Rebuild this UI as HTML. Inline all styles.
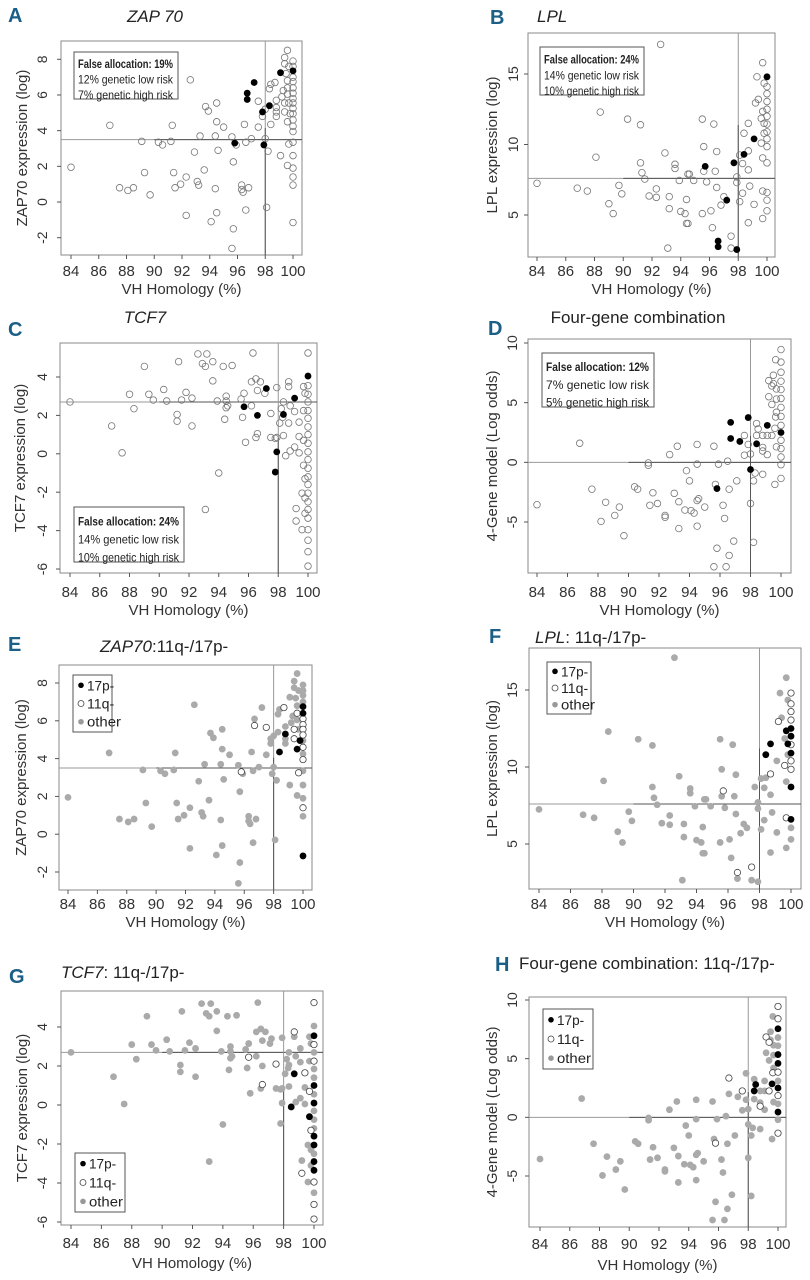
<!DOCTYPE html>
<html><head><meta charset="utf-8"><style>
html,body{margin:0;padding:0;background:#fff;}
svg{display:block;font-family:"Liberation Sans Narrow","Liberation Sans",sans-serif;}
</style></head><body>
<svg id="fig" width="810" height="1280" viewBox="0 0 810 1280" xmlns="http://www.w3.org/2000/svg"></svg>
<script>
// ===== ZAP70 data =====
const zapVH=[84.0,86.8,87.5,88.1,88.5,89.1,89.3,89.7,90.3,90.6,91.2,91.3,91.4,91.5,91.9,92.3,92.3,92.6,92.9,93.1,93.2,93.3,93.6,93.7,93.9,94.1,94.4,94.4,94.5,94.5,94.5,94.6,95.0,95.6,95.6,95.7,95.7,95.8,95.9,96.3,96.3,96.4,96.5,96.6,96.6,96.7,96.7,96.8,97.0,97.2,97.5,97.5,97.8,97.8,97.9,98.0,98.0,98.1,98.2,98.3,98.3,98.4,98.4,98.7,98.8,98.8,98.8,98.8,99.1,99.1,99.2,99.3,99.4,99.4,99.4,99.4,99.5,99.6,99.6,99.6,99.6,99.6,99.6,99.7,99.7,99.7,99.8,100,100,100,100,100,100,100,100,100,100,100,100,100,100,100,100,100,100,100,100];
const zapVal=[1.95,4.3,0.8,0.65,0.8,3.4,1.65,0.4,3.35,3.2,3.4,4.3,1.65,0.8,1.0,1.4,-0.75,6.85,2.8,1.15,0.95,3.7,1.8,5.35,5.1,-1.1,3.7,0.75,5.55,-0.6,4.5,2.9,4.2,3.65,-2.6,2.25,-1.5,3.3,3.2,0.95,0.7,0.55,4.35,-0.45,3.35,6.1,5.75,0.8,3.55,6.7,4.2,5.65,4.8,5.05,3.2,3.55,5.2,-0.3,2.85,5.4,6.35,6.6,4.35,6.7,5.7,5.3,5.05,4.8,7.25,2.6,5.9,6.25,5.55,7.75,8.1,5.05,7.2,8.5,6.8,4.5,2.05,6.4,6.05,5.55,3.25,7.6,4.95,7.9,7.6,7.35,7.0,6.75,6.4,6.1,5.8,5.55,5.25,4.95,4.6,4.25,3.95,3.35,2.6,1.9,1.4,0.95,-1.15];
const zapHigh=[37,45,46,49,53,54,59,68,89];
const zap17p=[62,65,79,86,91,92,106];
const zap11q=[46,51,37,63,72,75,81,84,100,104,93,94,95,96,98];
// ===== LPL data =====
const lplVH=[84.0,86.8,87.5,88.1,88.4,89.0,89.3,89.7,89.9,90.3,91.2,91.2,91.3,91.5,91.8,92.3,92.3,92.6,92.9,93.1,93.2,93.2,93.6,93.6,93.9,94.0,94.3,94.4,94.5,94.6,94.4,94.5,94.9,95.5,95.5,95.6,95.6,95.7,95.8,96.1,96.2,96.3,96.4,96.5,96.5,96.6,96.6,96.8,97.0,97.2,97.5,97.5,97.7,97.9,97.9,97.9,98.1,98.1,98.3,98.3,98.4,98.4,98.7,98.7,98.7,98.7,98.8,99.1,99.1,99.2,99.3,99.4,99.6,99.6,99.7,99.7,99.7,99.7,99.7,99.8,99.8,99.8,100,100,100,100,100,100,100,100,100,100,100,100,100,100];
const lplVal=[7.25,6.9,6.7,9.1,12.3,5.8,5.1,7.1,6.5,11.8,11.4,8.7,8.0,7.55,6.35,6.85,6.25,17.1,9.4,2.65,5.45,6.3,8.6,8.3,7.45,5.25,5.1,6.1,7.9,7.9,4.4,4.4,7.45,5.1,11.8,9.85,8.1,8.45,7.35,5.3,4.1,11.45,8.1,9.5,6.95,3.15,2.75,5.7,6.3,6.05,3.5,2.65,8.7,7.7,7.3,2.55,9.25,5.95,8.65,6.55,9.3,10.8,8.2,9.55,11.5,4.45,7.05,10.4,5.75,12.95,14.8,13.2,10.1,11.85,12.35,4.75,15.8,9.05,6.7,14.35,10.8,11.5,14.8,14.1,13.6,13.05,12.5,12.0,11.45,10.9,10.4,9.85,8.7,6.6,6.05,5.3];
const lplHigh=[37,45,46,49,52,55,60,67,82];
const lpl17p=[61,64,74,81,86,87,89,92,93];
const lpl11q=[37,45,50,63,69,72,78,82,83,84,85,88,90,91];
// ===== TCF7 data =====
const tcfVH=[84.0,86.8,87.5,88.0,88.3,89.0,89.3,89.6,90.3,90.5,91.2,91.2,91.3,91.5,91.8,92.2,92.2,92.6,92.9,93.1,93.1,93.2,93.6,93.6,93.9,94.0,94.3,94.4,94.5,94.5,94.5,94.6,94.9,95.5,95.6,95.7,95.7,95.8,96.2,96.2,96.3,96.5,96.5,96.6,96.6,96.6,96.8,97.1,97.2,97.5,97.5,97.8,97.9,97.9,97.9,97.8,98.1,98.2,98.3,98.35,98.35,98.35,98.5,98.7,98.7,98.7,98.8,98.8,99.1,99.1,99.1,99.2,99.2,99.4,99.4,99.4,99.6,99.6,99.7,99.7,99.7,99.7,99.8,99.8,99.8,99.8,100,100,100,100,100,100,100,100,100,100,100,100,100,100,100,100,100,100,100,100,100,100,100];
const tcfVal=[2.7,1.45,0.05,3.1,2.35,4.55,3.1,2.8,3.35,2.75,2.05,1.7,4.8,2.8,3.2,2.9,1.45,5.2,4.7,-2.9,4.55,5.2,3.8,4.8,2.75,-1.0,4.55,1.8,2.4,3.0,2.75,2.5,4.6,2.85,1.9,3.15,2.45,0.6,3.75,2.5,5.25,0.85,3.9,3.3,2.0,1.05,3.75,3.15,3.4,0.85,2.1,0.8,0.85,0.1,3.45,-0.95,1.6,2.35,1.9,2.05,2.7,0.95,-0.1,3.75,3.5,1.6,2.5,0.15,0.35,2.9,2.2,-2.85,-3.5,0.9,0.05,1.65,-2.05,-3.95,3.5,-0.6,0.7,2.25,3.15,-3.1,-1.3,-2.3,5.25,4.05,3.55,3.1,2.7,2.25,1.85,1.4,1.0,0.55,0.1,-0.3,-0.75,-1.2,-1.6,-2.05,-2.5,-2.9,-3.35,-3.95,-4.5,-5.1,-5.85];
const tcfHigh=[36,44,48,53,55,59,69,87];
const tcf17p=[62,65,79,88,94,96,100,101,103,104];
const tcf11q=[36,45,50,63,75,80,84,72,86,89,91,105,107,108];
// ===== Four-gene data =====
const fgVH=[84.0,86.8,87.6,88.2,88.5,89.1,89.4,89.7,90.4,90.6,91.3,91.3,91.4,91.6,91.9,92.4,92.4,92.7,93.0,93.2,93.3,93.3,93.7,93.8,94.0,94.1,94.3,94.5,94.5,94.5,94.5,94.6,95.0,95.6,95.6,95.7,95.8,95.8,95.9,96.2,96.3,96.4,96.5,96.6,96.6,96.7,96.7,96.9,97.1,97.3,97.6,97.6,97.85,97.85,98.0,98.0,98.0,98.2,98.2,98.3,98.4,98.4,98.4,98.5,98.8,98.8,98.8,98.8,99.1,99.1,99.1,99.2,99.2,99.4,99.4,99.4,99.5,99.5,99.6,99.6,99.65,99.65,99.7,99.7,99.7,99.7,100,100,100,100,100,100,100,100,100,100,100,100,100,100,100];
const fgVal=[-3.55,1.6,-2.25,-4.95,-3.35,-4.45,-3.75,-6.15,-2.05,-2.25,-0.25,-0.05,-3.6,-2.55,-3.45,-4.45,-4.6,0.65,-2.6,1.35,-5.55,-3.3,-4.0,-0.7,-1.55,-4.05,-4.25,1.5,-0.15,-3.2,-5.35,-3.05,-3.75,1.35,-8.75,-1.85,-2.2,-7.2,-0.15,-3.6,-4.7,-8.75,0.1,-7.8,-2.25,3.35,2.0,-6.6,-1.55,1.75,0.6,2.25,3.75,1.5,0.7,-0.6,-3.45,-6.7,-1.55,-0.9,3.25,1.55,2.25,2.8,2.25,0.95,1.25,-1.0,2.25,0.65,3.1,6.85,5.5,2.25,4.85,6.4,6.6,7.3,-1.85,2.85,8.6,3.8,1.3,4.2,6.15,5.3,9.45,8.4,7.55,6.8,6.1,5.35,4.6,3.85,3.1,2.5,1.85,1.15,0.45,-0.2,-1.35];
const fgHigh=[36,45,46,49,52,55,61,70,95];
const fg17p=[63,62,79,88,91,92,95,98];
const fg11q=[45,51,65,36,71,75,81,73,86,100,87,93,96];

const xTicks=[84,86,88,90,92,94,96,98,100];
const zapYTicks=[-2,0,2,4,6,8];
const lplYTicks=[5,10,15];
const tcfYTicks=[-6,-4,-2,0,2,4];
const fgYTicks=[-5,0,5,10];

const NS="http://www.w3.org/2000/svg";
const svg=document.getElementById('fig');
function mk(tag,attrs,parent,text){const e=document.createElementNS(NS,tag);for(const k in attrs)e.setAttribute(k,attrs[k]);if(text!==undefined)e.textContent=text;(parent||svg).appendChild(e);return e;}

const panels=[
 {id:'a',letter:'A',lx:8,ly:22,title:'ZAP 70',tItal:true,tx:155,ty:22,tAnchor:'middle',L:61,R:302,T:41,B:255,x84:71,x100:293,vA:8,yA:59.3,vB:-2,yB:237.7,yt:zapYTicks,ylab:'ZAP70 expression (log)',ylx:27,tlx:47,xly:276,xty:294,hv:3.5,vv:98,vx:zapVH,vy:zapVal,hi:zapHigh,mode:'top',leg:[74,52,104,47],legT:['False allocation: 19%','12% genetic low risk',' 7% genetic high risk']},
 {id:'b',letter:'B',lx:490,ly:24,title:'LPL',tItal:true,tx:537,ty:22,tAnchor:'start',L:528,R:775,T:33,B:257,x84:537,x100:767,vA:15,yA:74,vB:5,yB:215,yt:lplYTicks,ylab:'LPL expression (log)',ylx:497,tlx:518,xly:276,xty:294,hv:7.6,vv:98,vx:lplVH,vy:lplVal,hi:lplHigh,mode:'top',leg:[540,47,104,48],legT:['False allocation: 24%','14% genetic low risk','10% genetic high risk']},
 {id:'c',letter:'C',lx:8,ly:336,title:'TCF7',tItal:true,tx:145,ty:323,tAnchor:'middle',L:60,R:317,T:343,B:573,x84:70,x100:308,vA:4,yA:377,vB:-6,yB:569,yt:tcfYTicks,ylab:'TCF7 expression (log)',ylx:25,tlx:47,xly:597,xty:615,hv:2.7,vv:98,vx:tcfVH,vy:tcfVal,hi:tcfHigh,mode:'top',leg:[74,507,110,55],legT:['False allocation: 24%','14% genetic low risk','10% genetic high risk']},
 {id:'d',letter:'D',lx:488,ly:335,title:'Four-gene combination',tItal:false,tx:638,ty:323,tAnchor:'middle',L:528,R:791,T:339,B:573,x84:537,x100:781,vA:10,yA:343,vB:-5,yB:522,yt:fgYTicks,ylab:'4-Gene model (Log odds)',ylx:497,tlx:517,xly:597,xty:615,hv:0,vv:98,vx:fgVH,vy:fgVal,hi:fgHigh,mode:'top',leg:[542,353,112,54],legT:['False allocation: 12%','7% genetic low risk','5% genetic high risk']},
 {id:'e',letter:'E',lx:8,ly:651,title:'',tx:100,ty:652,L:59,R:312,T:665,B:890,x84:68,x100:303,vA:8,yA:683,vB:-2,yB:872,yt:zapYTicks,ylab:'ZAP70 expression (log)',ylx:26,tlx:47,xly:909,xty:927,hv:3.5,vv:98,vx:zapVH,vy:zapVal,g17:zap17p,g11:zap11q,mode:'bot',leg:[73,675,39,57],gene:'ZAP70',sep:':11q-/17p-',gx:100},
 {id:'f',letter:'F',lx:489,ly:643,title:'',tx:535,ty:643,L:529,R:801,T:648,B:889,x84:539,x100:791,vA:15,yA:690,vB:5,yB:844,yt:lplYTicks,ylab:'LPL expression (log)',ylx:497,tlx:517,xly:909,xty:927,hv:7.6,vv:98,vx:lplVH,vy:lplVal,g17:lpl17p,g11:lpl11q,mode:'bot',leg:[547,662,44,52],gene:'LPL',sep:': 11q-/17p-',gx:535},
 {id:'g',letter:'G',lx:9,ly:983,title:'',tx:61,ty:978,L:61,R:323,T:991,B:1225,x84:71,x100:314,vA:4,yA:1027,vB:-6,yB:1222,yt:tcfYTicks,ylab:'TCF7 expression (log)',ylx:27,tlx:47,xly:1248,xty:1268,hv:2.7,vv:98,vx:tcfVH,vy:tcfVal,g17:tcf17p,g11:tcf11q,mode:'bot',leg:[75,1153,50,59],gene:'TCF7',sep:': 11q-/17p-',gx:61},
 {id:'h',letter:'H',lx:495,ly:971,title:'',tx:519,ty:969,L:529,R:786,T:997,B:1227,x84:540,x100:778,vA:10,yA:1000,vB:-5,yB:1176,yt:fgYTicks,ylab:'4-Gene model (Log odds)',ylx:497,tlx:517,xly:1249,xty:1270,hv:0,vv:98,vx:fgVH,vy:fgVal,g17:fg17p,g11:fg11q,mode:'bot',leg:[543,1009,50,60],gene:'',sep:'Four-gene combination: 11q-/17p-',gx:519}
];

panels.forEach(p=>{
  const g=mk('g',{});
  
  
  const sx=v=>p.x84+(v-84)*(p.x100-p.x84)/16;
  const sy=v=>p.yA+(v-p.vA)*(p.yB-p.yA)/(p.vB-p.vA);
  const L=mk('text',{x:p.lx,y:p.ly,'font-size':20,'font-weight':'bold',fill:'#1b5e86'},g,p.letter);
  
  
  let T;
  if(p.mode==='top'){
    T=mk('text',{x:p.tx,y:p.ty,'font-size':17,'font-style':p.tItal?'italic':'normal','text-anchor':p.tAnchor,fill:'#222'},g,p.title);
  } else {
    T=mk('text',{x:p.tx,y:p.ty,'font-size':17,fill:'#222'},g);
    if(p.gene){mk('tspan',{'font-style':'italic'},T,p.gene);}
    mk('tspan',{},T,p.sep);
  }
  
  
  const box=mk('rect',{x:p.L,y:p.T,width:p.R-p.L,height:p.B-p.T,fill:'none',stroke:'#888','stroke-width':1},g);
  
  
  const hl=mk('line',{x1:p.L,x2:p.R,y1:sy(p.hv),y2:sy(p.hv),stroke:'#999','stroke-width':1},g);
  
  
  const hl2=mk('line',{x1:sx(90),x2:p.R,y1:sy(p.hv),y2:sy(p.hv),stroke:'#555','stroke-width':1},g);
  
  
  const vl=mk('line',{x1:sx(p.vv),x2:sx(p.vv),y1:p.T,y2:p.B,stroke:'#999','stroke-width':1},g);
  
  
  const vl2=mk('line',{x1:sx(p.vv),x2:sx(p.vv),y1:(p.T+p.B)/2-20,y2:p.B,stroke:'#555','stroke-width':1},g);
  
  
  xTicks.forEach(t=>{
    const tk=mk('line',{x1:sx(t),x2:sx(t),y1:p.B,y2:p.B+4,stroke:'#555'},g);
    
    
    const tl=mk('text',{x:sx(t),y:p.xly,'font-size':15,'text-anchor':'middle',fill:'#333'},g,String(t));
    
    
  });
  p.yt.forEach(t=>{
    const tk=mk('line',{x1:p.L-4,x2:p.L,y1:sy(t),y2:sy(t),stroke:'#555'},g);
    
    
    const tl=mk('text',{x:p.tlx,y:sy(t),'font-size':14,'text-anchor':'middle',fill:'#333',transform:'rotate(-90 '+p.tlx+' '+sy(t)+')'},g,String(t));
    
    
  });
  const xt=mk('text',{x:(p.L+p.R)/2,y:p.xty,'font-size':15,'text-anchor':'middle',fill:'#333'},g,'VH Homology (%)');
  
  
  const cy=(p.T+p.B)/2;
  const yt=mk('text',{x:p.ylx,y:cy,'font-size':15,'text-anchor':'middle',fill:'#333',transform:'rotate(-90 '+p.ylx+' '+cy+')'},g,p.ylab);
  
  
  const n=p.vx.length;
  if(p.mode==='top'){
    for(let i=0;i<n;i++){ if(p.hi.includes(i)) continue;
      const c=mk('circle',{cx:sx(p.vx[i]),cy:sy(p.vy[i]),r:3.3,fill:'none',stroke:'#777','stroke-width':0.8},g);
      
      
    }
    p.hi.forEach(i=>{
      const c=mk('circle',{cx:sx(p.vx[i]),cy:sy(p.vy[i]),r:3.4,fill:'#000'},g);
      
      
    });
  } else {
    for(let i=0;i<n;i++){ if(p.g17.includes(i)||p.g11.includes(i)) continue;
      const c=mk('circle',{cx:sx(p.vx[i]),cy:sy(p.vy[i]),r:3.4,fill:'#aaa'},g);
      
      
    }
    p.g11.forEach(i=>{
      const c=mk('circle',{cx:sx(p.vx[i]),cy:sy(p.vy[i]),r:3.2,fill:'#fff',stroke:'#444','stroke-width':0.8},g);
      
      
    });
    p.g17.forEach(i=>{
      const c=mk('circle',{cx:sx(p.vx[i]),cy:sy(p.vy[i]),r:3.4,fill:'#000'},g);
      
      
    });
  }
  const [lx,ly,lw,lh]=p.leg;
  const lg=mk('g',{},g);
  
  
  const lr=mk('rect',{x:lx,y:ly,width:lw,height:lh,fill:'#fff',stroke:'#555','stroke-width':1},lg);
  
  
  if(p.mode==='top'){
    p.legT.forEach((s,k)=>{
      const t=mk('text',{x:lx+4,y:ly+lh*(0.26+0.33*k)+4,'font-size':12,'font-weight':k===0?'bold':'normal',fill:'#222','xml:space':'preserve',textLength:lw-9,lengthAdjust:'spacingAndGlyphs'},lg,s);
      
      
    });
  } else {
    const labs=['17p-','11q-','other'];
    labs.forEach((s,k)=>{
      const yy=ly+lh*(0.18+0.32*k);
      const m=mk('circle',{cx:lx+8,cy:yy,r:k===1?3:2.8,fill:k===0?'#000':(k===1?'#fff':'#999'),stroke:k===1?'#444':'none','stroke-width':0.8},lg);
      
      
      const t=mk('text',{x:lx+14,y:yy+5,'font-size':14,fill:'#222',textLength:s.length*6.8,lengthAdjust:'spacingAndGlyphs'},lg,s);
      
      
    });
  }
});
</script>
</body></html>
